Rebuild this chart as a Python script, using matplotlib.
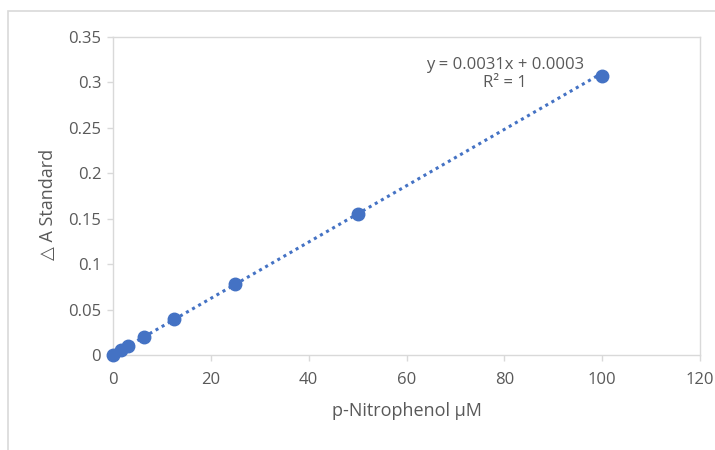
import numpy as np
import matplotlib.pyplot as plt
from matplotlib.patches import Rectangle

# -----------------------------
# Data
# -----------------------------
concentration = [0, 1.5625, 3.125, 6.25, 12.5, 25, 50, 100]
delta_a = [0.0, 0.0052, 0.0100, 0.0197, 0.0392, 0.0778, 0.1553, 0.3073]
slope, intercept = 0.0031, 0.0003

x_ticks = [0, 20, 40, 60, 80, 100, 120]
y_ticks = [0, 0.05, 0.1, 0.15, 0.2, 0.25, 0.3, 0.35]
y_tick_labels = ["0", "0.05", "0.1", "0.15", "0.2", "0.25", "0.3", "0.35"]

BLUE = "#4472C4"
GRAY_TEXT = "#595959"
GRAY_LINE = "#D9D9D9"

plt.rcParams['font.family'] = ['Open Sans', 'DejaVu Sans']

fig = plt.figure(figsize=(7.15, 4.5), dpi=100)
ax = fig.add_axes([113 / 715, 95 / 450, 587 / 715, 318 / 450])

# outer chart frame
fig.patches.append(Rectangle((8 / 715, -0.1), 1.0, 1 - 11 / 450 + 0.1,
                             transform=fig.transFigure, fill=False,
                             edgecolor=GRAY_LINE, linewidth=1.2))

# trend line
fit_x = np.array([concentration[0], concentration[-1]])
ax.plot(fit_x, slope * fit_x + intercept, linestyle=(0, (1, 1.3)),
        color=BLUE, linewidth=2.2, zorder=2)
ax.plot(concentration, delta_a, "o", color=BLUE, markersize=9,
        zorder=3, clip_on=False)

ax.set_xlim(0, 120)
ax.set_ylim(0, 0.35)
ax.set_xticks(x_ticks)
ax.set_yticks(y_ticks)
ax.set_yticklabels(y_tick_labels)

for side in ax.spines.values():
    side.set_color(GRAY_LINE)
    side.set_linewidth(1.0)
ax.tick_params(axis="both", colors=GRAY_LINE, labelcolor=GRAY_TEXT,
               labelsize=12, length=4, width=1.0, direction="out")
ax.tick_params(axis="x", pad=8)
ax.tick_params(axis="y", pad=4.5)

ax.set_xlabel("p-Nitrophenol µM", color=GRAY_TEXT, fontsize=13, va="center")
ax.xaxis.set_label_coords(0.5, -0.176)
ax.set_ylabel("△ A Standard", color=GRAY_TEXT, fontsize=13, va="center",
              family=['Open Sans', 'DejaVu Sans'])
ax.yaxis.set_label_coords(-0.111, 0.475)

ax.text(80.1, 0.319, "y = 0.0031x + 0.0003", ha="center", va="center",
        color=GRAY_TEXT, fontsize=12)
ax.text(80.1, 0.299, "R² = 1", ha="center", va="center",
        color=GRAY_TEXT, fontsize=12)

plt.savefig("out.png", dpi=100)
plt.close(fig)
